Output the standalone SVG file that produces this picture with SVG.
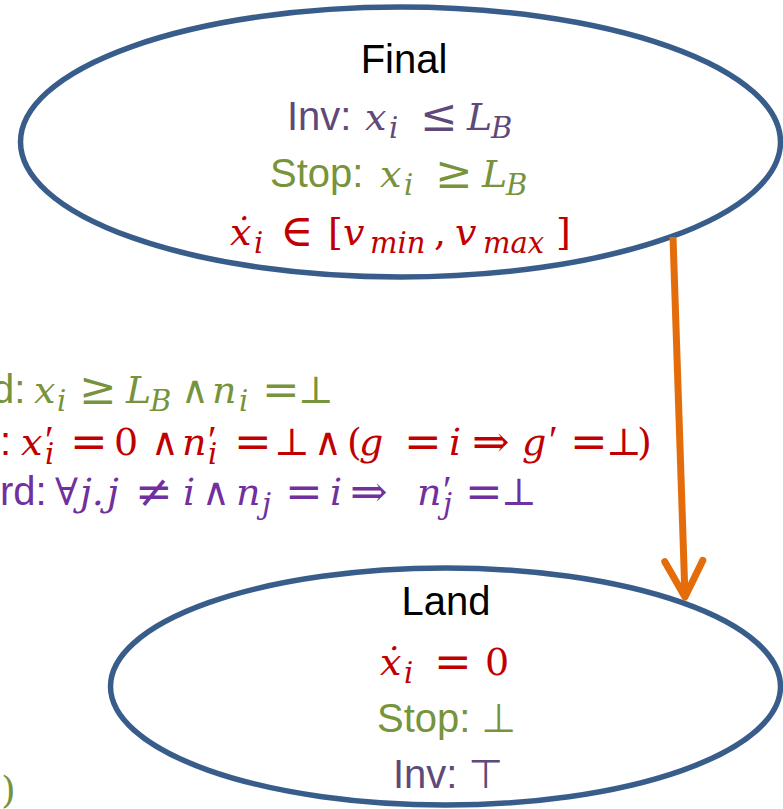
<svg xmlns="http://www.w3.org/2000/svg" width="783" height="809" viewBox="0 0 783 809">
<style>
.node{fill:#fff;stroke:#385D8A;stroke-width:5.5}
.s{font-family:"Liberation Sans","DejaVu Sans",sans-serif;font-size:40px}
.m{font-family:"DejaVu Serif",serif;font-style:italic;font-size:38px}
.u{font-family:"DejaVu Serif",serif;font-size:38px}
.o{font-family:"DejaVu Serif",serif;font-size:45px}
.b{font-family:"DejaVu Serif",serif;font-style:italic;font-size:29px}
.pr{font-family:"Liberation Serif",serif;font-size:40px}
.pur{fill:#5F497A}.grn{fill:#77933C}.red{fill:#C00000}.vio{fill:#7030A0}.blk{fill:#000}
</style>
<defs>
<marker id="ah" markerUnits="userSpaceOnUse" viewBox="-45 -25 50 50" markerWidth="50" markerHeight="50" refX="0" refY="0" orient="auto">
<path d="M-36,-19 L0,0 L-36,19" fill="none" stroke="#E46C0A" stroke-width="7" stroke-linecap="round" stroke-linejoin="round"/>
</marker>
</defs>
<rect width="783" height="809" fill="#fff"/>
<g id="final">
<ellipse class="node" cx="400.5" cy="142" rx="380" ry="135"/>
<text class="s blk" x="404" y="73" text-anchor="middle">Final</text>
<text class="pur"><tspan class="s" x="287" y="130">Inv:</tspan><tspan class="m" x="365" y="130">x</tspan><tspan class="b" x="389" y="138">i</tspan><tspan class="o" x="420" y="131">≤</tspan><tspan class="m" x="467" y="130">L</tspan><tspan class="b" x="491" y="138">B</tspan></text>
<text class="grn"><tspan class="s" x="270" y="187">Stop:</tspan><tspan class="m" x="380" y="187">x</tspan><tspan class="b" x="404" y="195">i</tspan><tspan class="o" x="435" y="188">≥</tspan><tspan class="m" x="482" y="187">L</tspan><tspan class="b" x="506" y="195">B</tspan></text>
<text class="red"><tspan class="m" x="230" y="245">ẋ</tspan><tspan class="b" x="254" y="253">i</tspan><tspan class="o" x="280" y="246">∈</tspan><tspan class="u" x="328" y="245">[</tspan><tspan class="m" x="343" y="245">v</tspan><tspan class="b" x="370" y="253">min</tspan><tspan class="u" x="434" y="245">,</tspan><tspan class="m" x="455" y="245">v</tspan><tspan class="b" x="483" y="253">max</tspan><tspan class="u" x="556" y="245">]</tspan></text>
</g>
<g id="land">
<ellipse class="node" cx="445.5" cy="686.5" rx="335" ry="118.5"/>
<text class="s blk" x="446" y="615" text-anchor="middle">Land</text>
<text class="red"><tspan class="m" x="380" y="675">ẋ</tspan><tspan class="b" x="404" y="683">i</tspan><tspan class="o" x="434" y="677">=</tspan><tspan class="u" x="485" y="675">0</tspan></text>
<text class="s grn" x="377" y="732">Stop: ⊥</text>
<text class="s pur" x="393" y="788">Inv: ⊤</text>
</g>
<g id="connectors">
<line x1="673" y1="237" x2="685" y2="597" stroke="#E46C0A" stroke-width="7" marker-end="url(#ah)"/>
</g>
<g id="labels">
<text class="grn"><tspan class="s" x="-8" y="403">d:</tspan><tspan class="m" x="34" y="403">x</tspan><tspan class="b" x="57" y="411">i</tspan><tspan class="o" x="79" y="404">≥</tspan><tspan class="m" x="126" y="403">L</tspan><tspan class="b" x="150" y="411">B</tspan><tspan class="u" x="181" y="403">∧</tspan><tspan class="m" x="212" y="403">n</tspan><tspan class="b" x="239" y="411">i</tspan><tspan class="o" x="262" y="405">=</tspan><tspan class="u" x="298" y="403">⊥</tspan></text>
<text class="red"><tspan class="s" x="0" y="455">:</tspan><tspan class="m" x="21" y="455">x</tspan><tspan class="pr" x="45" y="453">′</tspan><tspan class="b" x="45" y="464">i</tspan><tspan class="o" x="70" y="457">=</tspan><tspan class="u" x="114" y="455">0</tspan><tspan class="u" x="151" y="455">∧</tspan><tspan class="m" x="182" y="455">n</tspan><tspan class="pr" x="208" y="453">′</tspan><tspan class="b" x="208" y="464">i</tspan><tspan class="o" x="234" y="457">=</tspan><tspan class="u" x="274" y="455">⊥</tspan><tspan class="u" x="314" y="455">∧</tspan><tspan class="u" x="347" y="455">(</tspan><tspan class="m" x="359" y="455">g</tspan><tspan class="o" x="404" y="457">=</tspan><tspan class="m" x="449" y="455">i</tspan><tspan class="o" x="472" y="457">⇒</tspan><tspan class="m" x="522" y="455">g</tspan><tspan class="pr" x="549" y="453">′</tspan><tspan class="o" x="570" y="457">=</tspan><tspan class="u" x="606" y="455">⊥</tspan><tspan class="u" x="637" y="455">)</tspan></text>
<text class="vio"><tspan class="s" x="0" y="505">rd:</tspan><tspan class="u" x="55" y="505">∀</tspan><tspan class="m" x="80" y="505">j.</tspan><tspan class="m" x="107" y="505">j</tspan><tspan class="o" x="135" y="507">≠</tspan><tspan class="m" x="183" y="505">i</tspan><tspan class="u" x="202" y="505">∧</tspan><tspan class="m" x="236" y="505">n</tspan><tspan class="b" x="262" y="514">j</tspan><tspan class="o" x="285" y="507">=</tspan><tspan class="m" x="330" y="505">i</tspan><tspan class="o" x="350" y="507">⇒</tspan><tspan class="m" x="417" y="505">n</tspan><tspan class="pr" x="443" y="503">′</tspan><tspan class="b" x="443" y="514">j</tspan><tspan class="o" x="465" y="507">=</tspan><tspan class="u" x="501" y="505">⊥</tspan></text>
<text class="u grn" x="1" y="803">)</text>
</g>
</svg>
